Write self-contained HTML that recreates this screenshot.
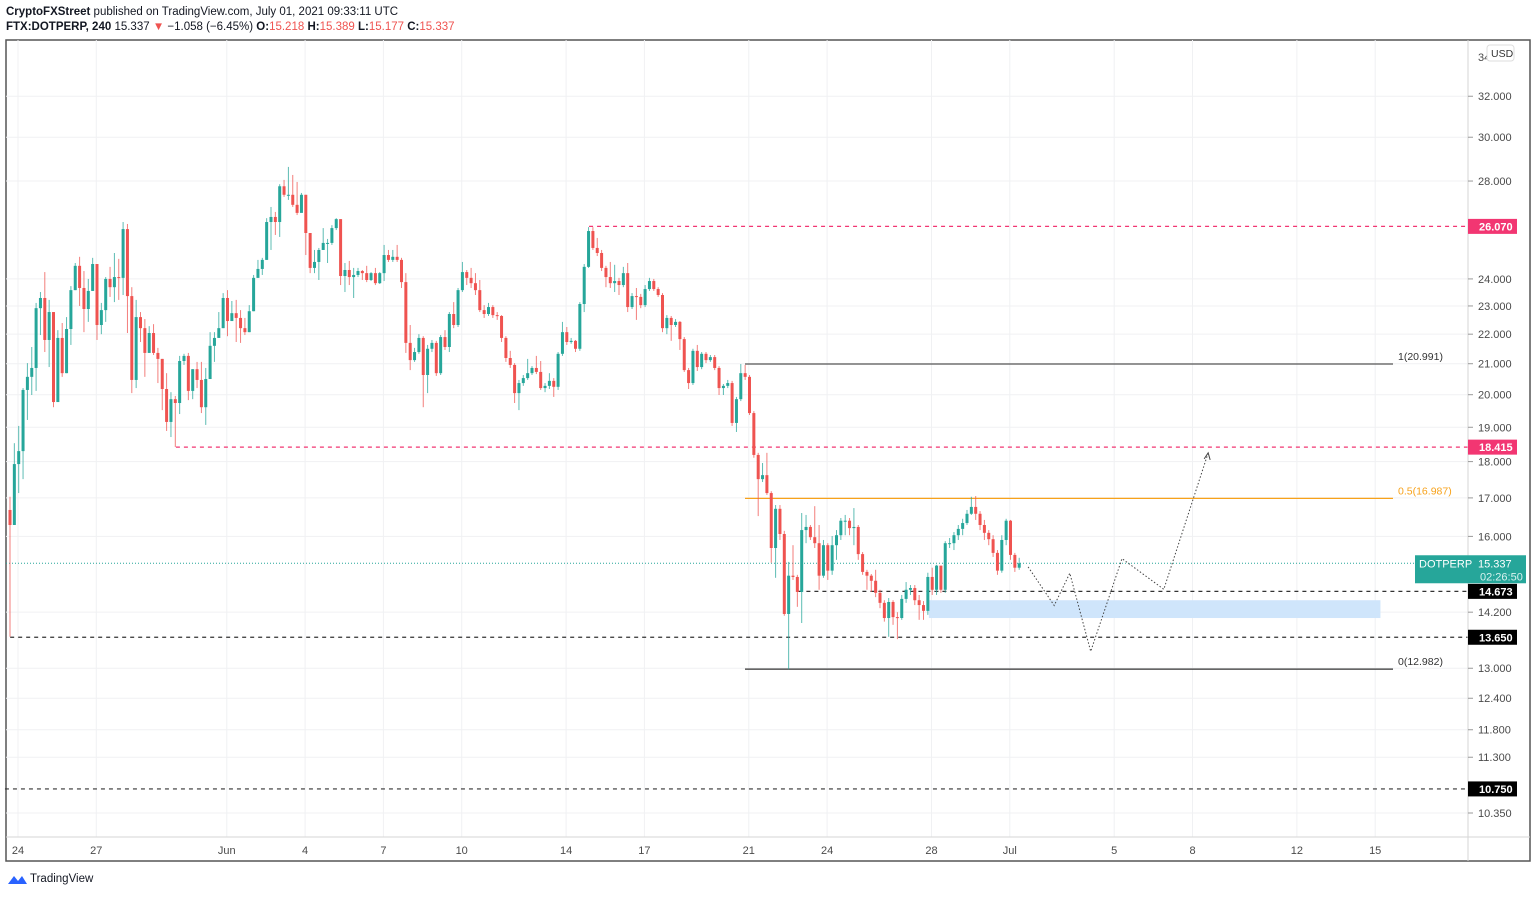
<!DOCTYPE html>
<html><head><meta charset="utf-8"><style>
html,body{margin:0;padding:0;background:#fff;}
body{width:1536px;height:895px;overflow:hidden;font-family:"Liberation Sans",Arial,sans-serif;}
svg text{font-family:"Liberation Sans",Arial,sans-serif;}
</style></head><body>
<svg id="chart" width="1536" height="895" viewBox="0 0 1536 895" xmlns="http://www.w3.org/2000/svg">
<text x="6" y="15" font-size="11.5" fill="#131722"><tspan font-weight="bold">CryptoFXStreet</tspan> published on TradingView.com, July 01, 2021 09:33:11 UTC</text>
<text x="6" y="30" font-size="11.5" fill="#131722"><tspan font-weight="bold">FTX:DOTPERP, 240</tspan>  15.337 <tspan fill="#ef5350">▼</tspan> −1.058 (−6.45%) <tspan font-weight="bold">O:</tspan><tspan fill="#ef5350">15.218</tspan> <tspan font-weight="bold">H:</tspan><tspan fill="#ef5350">15.389</tspan> <tspan font-weight="bold">L:</tspan><tspan fill="#ef5350">15.177</tspan> <tspan font-weight="bold">C:</tspan><tspan fill="#ef5350">15.337</tspan></text>
<rect x="6" y="40" width="1524" height="821" fill="none" stroke="#555" stroke-width="1.5"/>
<g id="grid"></g><g id="overlays"></g><g id="candles"></g><g id="annot"></g><g id="axes"></g>
<g>
<path d="M8 884 l6 -8 l4 5 l4 -5 l5 8 z" fill="#2962ff"/>
<text x="30" y="882" font-size="11.5" fill="#131722">TradingView</text>
</g>
</svg>
<script>
const NS="http://www.w3.org/2000/svg";
// ---- data ----
const firstOpen=16.68;
const startDay=-0.3065; // day offset (from May 24) of first candle
const closes=[16.29,17.93,18.30,20.15,20.57,20.86,22.92,23.29,21.80,22.78,19.77,21.87,20.69,22.18,23.58,24.50,23.66,22.89,23.55,24.57,22.32,22.85,24.00,23.69,24.07,24.04,25.96,23.36,20.47,22.60,22.21,21.36,22.04,21.36,21.16,20.18,19.16,19.86,19.74,21.09,21.26,20.12,20.82,20.47,19.61,20.50,21.60,21.87,22.21,23.29,22.46,22.74,22.57,22.21,22.07,22.81,24.04,24.38,24.73,26.25,26.46,26.25,27.77,27.40,27.40,26.97,26.63,27.40,25.80,24.42,24.65,25.12,25.40,25.40,26.00,26.37,24.11,24.34,24.07,24.15,24.30,24.22,23.96,24.22,23.84,24.22,24.92,24.73,24.85,24.73,23.88,21.70,21.12,21.39,21.87,20.63,21.50,21.70,20.69,21.90,21.56,22.71,22.32,23.58,24.26,24.04,23.84,23.58,22.85,22.71,22.96,22.67,22.64,21.87,21.19,20.96,20.05,20.37,20.53,20.69,20.86,20.73,20.21,20.28,20.44,20.25,21.33,22.07,21.73,21.77,21.50,23.07,24.46,25.88,25.20,25.00,24.42,24.07,23.84,23.92,23.77,24.22,22.96,23.36,23.33,23.03,23.62,23.92,23.62,23.40,22.21,22.57,22.32,22.43,21.83,20.79,20.37,21.43,20.89,21.33,21.12,21.22,20.86,20.21,20.28,20.37,19.13,19.86,20.69,20.57,19.43,18.19,17.51,17.62,17.13,15.71,16.71,16.06,14.16,15.04,15.01,14.66,16.16,16.24,15.98,15.83,15.04,15.78,15.16,15.78,16.03,16.40,16.40,16.21,16.24,15.56,15.13,15.04,14.92,14.64,14.41,14.07,14.43,14.09,14.07,14.50,14.71,14.75,14.47,14.36,14.23,15.01,14.71,15.28,14.71,15.83,15.83,16.03,16.19,16.34,16.58,16.76,16.58,16.29,16.09,15.93,15.59,15.16,15.91,16.40,15.54,15.23,15.337];
const highs=[17.03,18.53,19.04,20.21,21.02,21.56,23.11,23.51,24.26,23.22,22.78,22.14,22.39,22.60,23.73,24.61,24.85,24.30,24.00,24.81,24.57,23.11,24.07,24.46,25.00,24.77,26.25,26.17,23.69,23.22,22.78,22.53,22.28,22.35,21.53,21.16,20.69,20.08,19.96,21.26,21.33,21.36,20.82,21.06,21.06,20.86,22.07,22.07,22.78,23.47,23.58,23.18,23.22,22.85,22.57,23.03,24.15,24.73,24.81,26.41,26.88,26.67,27.86,28.05,28.63,28.27,27.96,27.48,27.40,25.80,25.12,25.20,26.00,25.56,26.12,26.41,26.37,24.61,24.69,24.42,24.42,24.34,24.50,24.26,24.42,24.26,25.32,25.12,25.12,25.32,24.81,24.22,22.32,21.53,22.00,21.93,21.63,21.80,21.77,21.97,22.14,22.78,23.14,23.66,24.65,24.34,24.42,24.22,23.96,23.03,23.11,23.03,22.78,22.67,21.93,21.43,21.02,20.47,20.63,21.16,20.92,21.26,21.09,20.37,20.69,20.53,21.39,22.43,22.25,21.87,21.80,23.14,24.57,26.04,26.04,25.60,25.12,24.50,24.65,24.54,24.04,24.46,24.61,23.47,23.66,23.44,23.77,24.04,24.00,23.69,23.47,22.67,22.64,22.53,22.46,21.90,20.86,21.50,21.63,21.39,21.39,21.29,21.29,20.92,20.34,20.47,20.44,19.93,20.99,20.96,20.63,19.49,18.25,17.96,18.25,17.18,16.81,16.81,16.14,15.37,15.78,15.06,16.60,16.55,16.29,16.78,16.29,15.91,15.83,16.01,16.16,16.47,16.55,16.47,16.73,16.29,15.61,15.18,15.08,15.18,14.71,14.47,14.52,14.47,14.20,14.59,14.89,14.82,14.82,14.59,14.45,15.11,15.23,15.30,15.28,15.88,15.96,16.11,16.29,16.45,16.68,17.03,17.05,16.65,16.42,16.16,16.03,15.66,16.03,16.45,16.42,15.59,15.47];
const lows=[13.66,16.29,17.13,17.51,19.22,19.99,20.12,21.97,21.39,20.89,19.61,19.77,20.57,20.69,21.63,23.58,23.00,22.07,22.43,23.55,21.80,22.00,22.43,23.33,23.14,23.22,23.40,22.04,20.05,20.21,21.73,20.57,21.36,21.29,20.37,19.52,18.89,18.71,18.42,19.40,20.96,19.83,19.86,20.21,19.43,19.07,20.50,21.06,21.90,22.21,21.93,22.46,21.73,21.70,21.97,22.07,22.81,24.04,24.15,24.73,25.12,25.72,25.64,27.31,27.18,26.88,26.54,26.75,24.92,24.22,24.22,23.96,25.12,24.61,25.32,25.92,23.77,23.51,23.77,23.29,24.07,23.96,23.88,23.92,23.77,23.81,23.92,24.65,24.65,24.65,23.66,21.36,20.79,21.06,21.33,19.61,20.05,21.39,20.60,20.63,21.46,21.39,22.21,22.25,23.51,23.77,23.66,23.40,22.78,22.57,22.64,22.57,22.50,21.73,21.06,20.86,19.74,19.52,20.28,20.47,20.63,20.66,20.15,20.08,20.18,19.93,20.15,21.26,21.63,21.67,21.39,21.43,22.78,24.42,25.12,24.88,24.30,23.69,23.66,23.51,23.40,23.69,22.78,22.89,22.50,22.92,22.96,23.55,23.55,23.33,22.07,22.00,21.77,22.25,21.46,20.73,20.18,20.31,20.76,20.82,21.02,21.06,20.79,19.99,19.99,20.21,19.04,18.86,19.80,20.47,19.37,18.11,16.52,17.43,17.08,15.35,14.99,15.91,14.12,12.98,14.94,14.32,13.96,15.83,15.91,15.71,14.71,14.99,14.94,15.06,15.42,15.91,16.03,16.03,15.78,15.42,15.06,14.71,14.66,14.54,14.29,13.99,13.66,13.92,13.61,14.03,14.41,14.59,14.36,14.03,14.03,14.14,14.59,14.59,14.64,14.64,15.71,15.66,15.91,16.03,16.29,16.55,16.42,16.16,15.91,15.78,15.49,15.06,15.11,15.78,15.42,15.13,15.18];
const priceTicks=[32,30,28,24,23,22,21,20,19,18,17,16,14.2,13,12.4,11.8,11.3,10.35];
const tickLabels=["32.000","30.000","28.000","24.000","23.000","22.000","21.000","20.000","19.000","18.000","17.000","16.000","14.200","13.000","12.400","11.800","11.300","10.350"];
const dateDays=[0,3,8,11,14,17,21,24,28,31,35,38,42,45,49,52];
const dateLabels=["24","27","Jun","4","7","10","14","17","21","24","28","Jul","5","8","12","15"];
const hLevels=[26.07,18.415,14.673,13.65,10.75];
const hLevelStartDays=[21.88,6.05,29.9,-0.3,-0.5];
const hLevelColors=["#f23672","#f23672","#333","#333","#333"];
const fibLevels=[20.991,16.987,12.982];
const fibLabels=["1(20.991)","0.5(16.987)","0(12.982)"];
const fibColors=["#555","#f7a21b","#333"];
const pathDays=[38.7,39.7,40.3,41.1,42.3,43.9,45.6];
const pathPrices=[15.25,14.35,15.10,13.35,15.45,14.72,18.25];
const zoneTop=14.47, zoneBottom=14.07, zoneStartDay=34.9, zoneEndDay=52.2;
// ---- scales ----
const X0=18, DAYW=26.1;
function xs(d){return X0+DAYW*d;}
function ys(p){return 813-635*Math.log(p/10.35);}
function mk(tag,attrs,parent){const e=document.createElementNS(NS,tag);for(const k in attrs)e.setAttribute(k,attrs[k]);parent.appendChild(e);return e;}
const grid=document.getElementById('grid'),ov=document.getElementById('overlays'),cg=document.getElementById('candles'),an=document.getElementById('annot'),ax=document.getElementById('axes');
mk('line',{x1:1468,y1:40,x2:1468,y2:861,stroke:'#d6d6d6'},ax);
mk('line',{x1:6,y1:837,x2:1530,y2:837,stroke:'#d6d6d6'},ax);
priceTicks.forEach((p,i)=>{
  const y=ys(p);
  const g=mk('line',{x1:6,y1:y,x2:1468,y2:y,stroke:'#f0f1f3'},grid);
  
  
  mk('line',{x1:1468,y1:y,x2:1473,y2:y,stroke:'#999'},ax);
  const t=mk('text',{x:1478,y:y+4,'font-size':11,fill:'#4a4a4a'},ax);
  t.textContent=tickLabels[i];
  
  
});
const t34=mk('text',{x:1478,y:61,'font-size':11,fill:'#4a4a4a'},ax);t34.textContent='34';
const usd=mk('rect',{x:1487,y:45,width:27,height:16,rx:3,fill:'#fff',stroke:'#ddd'},ax);


const usdT=mk('text',{x:1491,y:57,'font-size':10.5,fill:'#333'},ax);usdT.textContent='USD';
dateDays.forEach((d,i)=>{
  const x=xs(d);
  const g=mk('line',{x1:x,y1:40,x2:x,y2:837,stroke:'#f0f1f3'},grid);
  
  
  const t=mk('text',{x:x,y:854,'font-size':11,fill:'#4a4a4a','text-anchor':'middle'},ax);
  t.textContent=dateLabels[i];
  
  
});
const z=mk('rect',{x:xs(zoneStartDay),y:ys(zoneTop),width:xs(zoneEndDay)-xs(zoneStartDay),height:ys(zoneBottom)-ys(zoneTop),fill:'#cfe5fb'},ov);


const lp=closes[closes.length-1];
const lpl=mk('line',{x1:6,y1:ys(lp),x2:1415,y2:ys(lp),stroke:'#26a69a','stroke-dasharray':'1,2','stroke-width':1},ov);


hLevels.forEach((p,i)=>{
  const y=ys(p);
  const l=mk('line',{x1:xs(hLevelStartDays[i]),y1:y,x2:1468,y2:y,stroke:hLevelColors[i],'stroke-dasharray':'4,4','stroke-width':1.2},ov);
  
  
  const b=mk('rect',{x:1468,y:y-7.5,width:49,height:15,fill:i<2?'#f23672':'#000'},ax);
  
  
  const t=mk('text',{x:1479,y:y+4,'font-size':11,fill:'#fff','font-weight':'bold'},ax);
  t.textContent=p.toFixed(3);
});
fibLevels.forEach((p,i)=>{
  const y=ys(p);
  const l=mk('line',{x1:745,y1:y,x2:1393,y2:y,stroke:fibColors[i],'stroke-width':1.2},ov);
  
  
  const t=mk('text',{x:1398,y:y-4,'font-size':10.5,fill:fibColors[i]==='#f7a21b'?'#f7a21b':'#333'},an);
  t.textContent=fibLabels[i];
  
  
});
let prev=firstOpen;
closes.forEach((c,i)=>{
  const o=prev; prev=c;
  const x=xs(startDay+i/6);
  const up=c>=o, col=up?'#26a69a':'#ef5350';
  const g=mk('g',{},cg);
  
  
  mk('line',{x1:x,y1:ys(highs[i]),x2:x,y2:ys(lows[i]),stroke:col,'stroke-width':1,opacity:0.75},g);
  const top=ys(Math.max(o,c)),bot=ys(Math.min(o,c));
  mk('rect',{x:x-1.5,y:top,width:3,height:Math.max(1,bot-top),fill:col},g);
});
let d='';
pathDays.forEach((v,i)=>{d+=(i?'L':'M')+xs(v).toFixed(1)+' '+ys(pathPrices[i]).toFixed(1)+' ';});
const pp=mk('path',{d:d,fill:'none',stroke:'#444','stroke-width':1,'stroke-dasharray':'1.5,2'},an);


const n=pathDays.length, ex=xs(pathDays[n-1]), ey=ys(pathPrices[n-1]);
const ah=mk('path',{d:`M${ex-4} ${ey+6} L${ex} ${ey} L${ex+2} ${ey+7}`,fill:'none',stroke:'#444','stroke-width':1},an);


const ly=ys(lp);
const lb=mk('rect',{x:1415,y:ly-8,width:111,height:28,fill:'#26a69a'},ax);


const lt=mk('text',{x:1419,y:ly+4,'font-size':11,fill:'#fff'},ax);lt.textContent='DOTPERP';
const lt2=mk('text',{x:1478,y:ly+4,'font-size':11,fill:'#fff'},ax);lt2.textContent='15.337';
const lt3=mk('text',{x:1480,y:ly+17,'font-size':11,fill:'#d8f2ef'},ax);lt3.textContent='02:26:50';
</script>
</body></html>
